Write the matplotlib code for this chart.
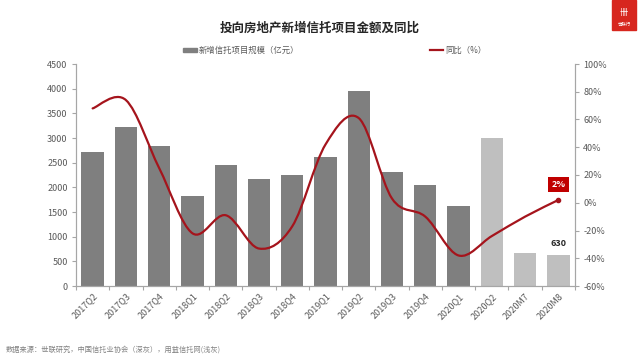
import matplotlib
matplotlib.use("Agg")
import matplotlib.pyplot as plt
from matplotlib.path import Path
from matplotlib.patches import PathPatch, Rectangle
import numpy as np

plt.rcParams['font.family'] = ['Noto Sans CJK SC', 'DejaVu Sans']

categories = ['2017Q2', '2017Q3', '2017Q4', '2018Q1', '2018Q2', '2018Q3', '2018Q4',
              '2019Q1', '2019Q2', '2019Q3', '2019Q4', '2020Q1', '2020Q2', '2020M7', '2020M8']
scale_values = [2710, 3223, 2832, 1824, 2447, 2169, 2256, 2615, 3953, 2305, 2041, 1615, 2994, 675, 630]
yoy_values = [68, 74, 25, -22, -9, -33, -17, 42, 61, 3, -10, -38, -24, -10, 2]
left_ticks = [0, 500, 1000, 1500, 2000, 2500, 3000, 3500, 4000, 4500]
right_ticks = [-60, -40, -20, 0, 20, 40, 60, 80, 100]

title = '投向房地产新增信托项目金额及同比'
bar_label = '新增信托项目规模（亿元）'
line_label = '同比（%）'
source = '数据来源：世联研究，中国信托业协会（深灰），用益信托网(浅灰)'

dark_gray = '#7F7F7F'
light_gray = '#BFBFBF'
red = '#A5141C'
axis_col = '#A6A6A6'
text_col = '#595959'

fig = plt.figure(figsize=(6.41, 3.61), dpi=100)
ax = fig.add_axes([76/641, 1-286/361, (575-76)/641, (286-64)/361])
ax2 = ax.twinx()

x = np.arange(len(categories))
colors = [dark_gray]*12 + [light_gray]*3
ax.bar(x, scale_values, width=0.67, color=colors, zorder=2)
ax.set_xlim(-0.5, len(categories)-0.5)
ax.set_ylim(0, 4500)
ax.set_yticks(left_ticks)
ax.set_yticklabels([str(t) for t in left_ticks])
ax2.set_ylim(-60, 100)
ax2.set_yticks(right_ticks)
ax2.set_yticklabels([f'{t}%' for t in right_ticks])

ax.set_xticks(x)
ax.set_xticklabels(categories, rotation=45, ha='right', va='top', rotation_mode='anchor')
ax.set_xticks(np.arange(-0.5, len(categories)), minor=True)
ax.tick_params(axis='x', which='major', length=0, pad=4, labelsize=6.5, labelcolor=text_col)
ax.tick_params(axis='x', which='minor', length=3, color=axis_col, width=0.8)
ax.tick_params(axis='y', length=3, color=axis_col, width=0.8, labelsize=6.5, labelcolor=text_col, pad=3)
ax2.tick_params(axis='y', length=3, color=axis_col, width=0.8, labelsize=6.5, labelcolor=text_col, pad=3)

for a in (ax, ax2):
    a.spines['top'].set_visible(False)
    for s in ('left', 'right', 'bottom'):
        a.spines[s].set_color(axis_col)
        a.spines[s].set_linewidth(0.8)

# smooth line (Catmull-Rom style Bezier, like Excel smoothed line)
pts = np.column_stack([x, yoy_values]).astype(float)
verts = [tuple(pts[0])]
codes = [Path.MOVETO]
n = len(pts)
for i in range(n-1):
    p0 = pts[i-1] if i > 0 else pts[i]
    p1 = pts[i]
    p2 = pts[i+1]
    p3 = pts[i+2] if i+2 < n else pts[i+1]
    c1 = p1 + (p2 - p0)/6
    c2 = p2 - (p3 - p1)/6
    verts += [tuple(c1), tuple(c2), tuple(p2)]
    codes += [Path.CURVE4]*3
path = Path(verts, codes)
ax2.add_patch(PathPatch(path, facecolor='none', edgecolor=red, lw=1.6, zorder=3,
                        capstyle='round', joinstyle='round'))
ax2.plot([x[-1]], [yoy_values[-1]], 'o', color=red, ms=3, zorder=4)

ax2.annotate(f'{yoy_values[-1]}%', (x[-1], yoy_values[-1]), xytext=(0, 11),
             textcoords='offset points', ha='center', va='center', fontsize=6.5,
             fontweight='bold', color='white',
             bbox=dict(boxstyle='square,pad=0.35', fc='#C00000', ec='none'))
ax.annotate(str(scale_values[-1]), (x[-1], scale_values[-1]), xytext=(0, 8),
            textcoords='offset points', ha='center', va='center', fontsize=6.5,
            fontweight='bold', color='#262626')

fig.text(320/641, 1-28/361, title, ha='center', va='center', fontsize=9,
         fontweight='bold', color='#262626')

# legend
fig.patches.append(Rectangle((183/641, 1-52/361), 14/641, 4/361, transform=fig.transFigure,
                             color=dark_gray, figure=fig))
fig.text(199/641, 1-50/361, bar_label, ha='left', va='center', fontsize=6, color=text_col)
fig.lines.append(plt.Line2D([430/641, 443/641], [1-50/361, 1-50/361], transform=fig.transFigure,
                            color=red, lw=1.6, figure=fig))
fig.text(445/641, 1-50/361, line_label, ha='left', va='center', fontsize=6, color=text_col)

fig.text(6/641, 1-350/361, source, ha='left', va='center', fontsize=5.2, color='#808080')

# logo
fig.patches.append(Rectangle((612/641, 1-30/361), 24/641, 30/361, transform=fig.transFigure,
                             color='#D7261E', figure=fig))
fig.text(624/641, 1-12/361, '卌', ha='center', va='center', fontsize=6, color='white')
fig.text(624/641, 1-24/361, '世联行', ha='center', va='center', fontsize=3.2, color='white')

fig.savefig('out.png', dpi=100)
